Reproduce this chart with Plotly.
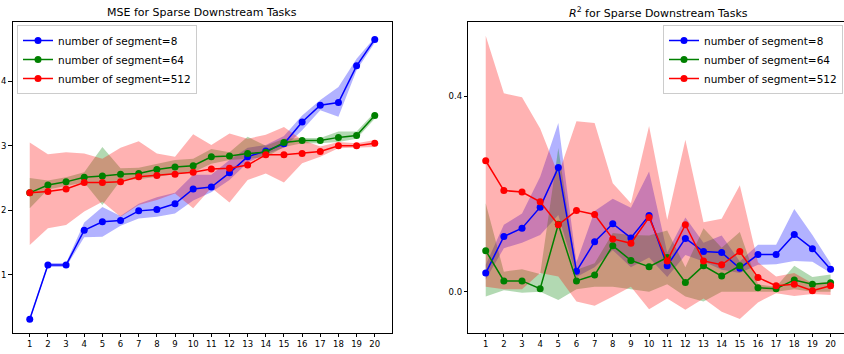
import plotly.graph_objects as go

# x positions: number of labelled samples
steps = list(range(1, 21))
series_names = ["number of segment=8", "number of segment=64", "number of segment=512"]
colors = ["#0000ff", "#008000", "#ff0000"]
fills = ["rgba(0,0,255,0.3)", "rgba(0,128,0,0.3)", "rgba(255,0,0,0.3)"]

# MSE (mean, lower, upper)
mse8 = [0.31, 1.15, 1.15, 1.69, 1.82, 1.84, 1.99, 2.01, 2.10, 2.33, 2.36, 2.58, 2.83, 2.92, 3.03, 3.37, 3.63, 3.67, 4.24, 4.65]
mse8_lo = [0.29, 1.12, 1.12, 1.58, 1.59, 1.76, 1.87, 1.90, 1.95, 2.15, 2.28, 2.47, 2.74, 2.87, 2.97, 3.24, 3.55, 3.45, 4.17, 4.60]
mse8_hi = [0.33, 1.18, 1.18, 1.81, 2.05, 1.91, 2.10, 2.20, 2.27, 2.55, 2.55, 2.78, 2.97, 3.01, 3.15, 3.47, 3.71, 3.91, 4.35, 4.68]

mse64 = [2.27, 2.39, 2.44, 2.51, 2.53, 2.56, 2.57, 2.63, 2.67, 2.69, 2.83, 2.84, 2.88, 2.90, 3.05, 3.08, 3.08, 3.13, 3.16, 3.47]
mse64_lo = [2.03, 2.32, 2.37, 2.43, 2.08, 2.46, 2.48, 2.52, 2.56, 2.59, 2.72, 2.78, 2.80, 2.82, 2.98, 3.04, 3.04, 3.06, 3.11, 3.42]
mse64_hi = [2.50, 2.46, 2.51, 2.59, 2.98, 2.65, 2.66, 2.72, 2.78, 2.80, 2.95, 2.90, 3.14, 3.00, 3.11, 3.12, 3.12, 3.22, 3.22, 3.52]

mse512 = [2.27, 2.29, 2.33, 2.43, 2.43, 2.44, 2.52, 2.54, 2.56, 2.59, 2.64, 2.65, 2.70, 2.86, 2.86, 2.88, 2.91, 3.00, 3.00, 3.04]
mse512_lo = [1.46, 1.72, 1.77, 1.98, 2.13, 1.90, 2.08, 2.16, 2.26, 2.03, 2.35, 2.12, 2.47, 2.57, 2.43, 2.73, 2.83, 2.96, 2.97, 2.98]
mse512_hi = [3.05, 2.87, 2.90, 2.88, 2.80, 2.97, 3.07, 2.88, 2.83, 3.18, 3.01, 3.19, 3.11, 3.17, 3.29, 3.09, 2.99, 3.06, 3.04, 3.09]

# R^2 (mean, lower, upper)
r8 = [0.038, 0.113, 0.130, 0.173, 0.254, 0.042, 0.102, 0.139, 0.110, 0.156, 0.053, 0.109, 0.082, 0.080, 0.048, 0.076, 0.076, 0.117, 0.088, 0.046]
r8_lo = [0.025, 0.089, 0.100, 0.116, 0.157, 0.030, 0.050, 0.085, 0.050, 0.070, 0.030, 0.075, 0.062, 0.045, 0.038, 0.055, 0.056, 0.063, 0.061, 0.038]
r8_hi = [0.055, 0.137, 0.160, 0.235, 0.345, 0.060, 0.165, 0.190, 0.172, 0.246, 0.080, 0.152, 0.100, 0.115, 0.062, 0.096, 0.096, 0.169, 0.116, 0.058]

r64 = [0.084, 0.022, 0.022, 0.006, 0.138, 0.022, 0.034, 0.094, 0.064, 0.051, 0.070, 0.019, 0.053, 0.032, 0.053, 0.008, 0.006, 0.024, 0.015, 0.018]
r64_lo = [-0.010, 0.003, -0.002, 0.000, -0.017, 0.005, 0.010, 0.010, 0.005, 0.000, 0.015, -0.010, -0.020, 0.000, 0.000, 0.000, 0.000, 0.005, 0.000, 0.000]
r64_hi = [0.181, 0.041, 0.046, 0.036, 0.294, 0.045, 0.058, 0.120, 0.116, 0.115, 0.125, 0.050, 0.130, 0.090, 0.122, 0.015, 0.010, 0.053, 0.030, 0.035]

r512 = [0.268, 0.207, 0.204, 0.184, 0.137, 0.166, 0.158, 0.108, 0.099, 0.152, 0.063, 0.137, 0.063, 0.055, 0.082, 0.029, 0.012, 0.015, 0.002, 0.012]
r512_lo = [0.010, 0.005, 0.005, 0.038, 0.031, -0.020, -0.029, -0.010, 0.010, -0.036, -0.014, -0.037, -0.014, -0.041, -0.056, -0.022, -0.003, -0.009, -0.005, -0.007]
r512_hi = [0.524, 0.406, 0.398, 0.334, 0.240, 0.349, 0.345, 0.222, 0.181, 0.339, 0.147, 0.311, 0.142, 0.149, 0.218, 0.060, 0.031, 0.038, 0.017, 0.020]

W, H = 844, 354
FONT = "DejaVu Sans"

panels = [
    dict(xa="x", ya="y", legend="legend",
         data=[(mse8, mse8_lo, mse8_hi), (mse64, mse64_lo, mse64_hi), (mse512, mse512_lo, mse512_hi)]),
    dict(xa="x2", ya="y2", legend="legend2",
         data=[(r8, r8_lo, r8_hi), (r64, r64_lo, r64_hi), (r512, r512_lo, r512_hi)]),
]

fig = go.Figure()
for p in panels:
    # shaded spread first, then the mean curves on top
    for (mean, lo, hi), fc in zip(p["data"], fills):
        fig.add_trace(go.Scatter(
            x=steps + steps[::-1], y=hi + lo[::-1], fill="toself", fillcolor=fc,
            line=dict(width=0), mode="lines", hoverinfo="skip", showlegend=False,
            xaxis=p["xa"], yaxis=p["ya"]))
    for (mean, lo, hi), c, name in zip(p["data"], colors, series_names):
        fig.add_trace(go.Scatter(
            x=steps, y=mean, mode="lines+markers", name=name,
            line=dict(color=c, width=1.5), marker=dict(color=c, size=7),
            xaxis=p["xa"], yaxis=p["ya"], legend=p["legend"]))

y_top, y_bot = 22, 332.7
dom_y = [1 - y_bot / H, 1 - y_top / H]

axis_common = dict(showline=True, linecolor="black", linewidth=1, ticks="outside",
                   ticklen=3.5, tickwidth=1, tickcolor="black", showgrid=False,
                   zeroline=False, tickfont=dict(family=FONT, size=8.5, color="black"),
                   automargin=False)

legend_style = dict(xanchor="left", yanchor="top", bgcolor="rgba(255,255,255,0.8)",
                    bordercolor="#cccccc", borderwidth=1, itemwidth=30,
                    font=dict(family=FONT, size=10.5, color="black"))

fig.update_layout(
    width=W, height=H, margin=dict(l=0, r=0, t=0, b=0),
    paper_bgcolor="white", plot_bgcolor="white",
    font=dict(family=FONT, color="black"),
    xaxis=dict(domain=[12.5 / W, 392 / W], range=[0.05, 20.95], tickvals=steps,
               mirror=True, anchor="y", **axis_common),
    yaxis=dict(domain=dom_y, range=[0.10, 4.92], tickvals=[1, 2, 3, 4],
               mirror=True, anchor="x", **axis_common),
    xaxis2=dict(domain=[468.3 / W, 1.0], range=[0.04, 20.74], tickvals=steps,
                mirror=True, anchor="y2", **axis_common),
    yaxis2=dict(domain=dom_y, range=[-0.084, 0.552], tickvals=[0.0, 0.4],
                tickformat=".1f", mirror=False, anchor="x2", **axis_common),
    legend=dict(x=17 / W, y=1 - 25 / H, **legend_style),
    legend2=dict(**{**legend_style, "xanchor": "right"}, x=843 / W, y=1 - 25 / H),
    annotations=[
        dict(text="MSE for Sparse Downstream Tasks", x=202.3 / W, y=1 - 12 / H,
             xref="paper", yref="paper", showarrow=False, xanchor="center", yanchor="middle",
             font=dict(family=FONT, size=11, color="black")),
        dict(text="<i>R</i><sup>2</sup> for Sparse Downstream Tasks", x=658 / W, y=1 - 12 / H,
             xref="paper", yref="paper", showarrow=False, xanchor="center", yanchor="middle",
             font=dict(family=FONT, size=11, color="black")),
    ],
)

fig.write_html("out.html")
